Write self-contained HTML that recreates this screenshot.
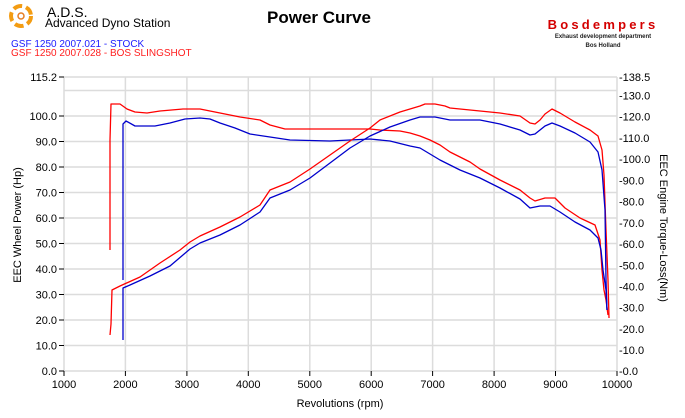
<!DOCTYPE html>
<html><head><meta charset="utf-8"><style>
body{margin:0;background:#fff;}
svg{display:block;font-family:"Liberation Sans",sans-serif;}
</style></head><body>
<svg width="685" height="418" viewBox="0 0 685 418" xmlns="http://www.w3.org/2000/svg">
<rect width="685" height="418" fill="#fff"/>
<circle cx="21" cy="16" r="10" fill="none" stroke="#f39c12" stroke-width="4" stroke-dasharray="9 4"/>
<circle cx="21" cy="16" r="3" fill="none" stroke="#e67e22" stroke-width="1.5"/>
<text x="47" y="17" font-size="14" fill="#000">A.D.S.</text>
<text x="45" y="27" font-size="12" fill="#000">Advanced Dyno Station</text>
<text x="11" y="47" font-size="10" fill="#1a1aff">GSF 1250 2007.021 - STOCK</text>
<text x="11" y="56" font-size="10" fill="#ff2020">GSF 1250 2007.028 - BOS SLINGSHOT</text>
<text x="319" y="23" font-size="17" font-weight="bold" text-anchor="middle" fill="#000">Power Curve</text>
<text x="603" y="29" font-size="13" font-weight="bold" text-anchor="middle" fill="#d40000" letter-spacing="3.2">Bosdempers</text>
<text x="603" y="38" font-size="6" font-weight="bold" text-anchor="middle" fill="#222">Exhaust development department</text>
<text x="603" y="47" font-size="6" font-weight="bold" text-anchor="middle" fill="#222">Bos Holland</text>
<g stroke="#dcdcdc" stroke-width="1.5" fill="none">
<line x1="64" y1="77" x2="617" y2="77"/>
<line x1="64" y1="90.5" x2="617" y2="90.5"/><line x1="64" y1="116" x2="617" y2="116"/><line x1="64" y1="141.5" x2="617" y2="141.5"/><line x1="64" y1="167" x2="617" y2="167"/><line x1="64" y1="192.5" x2="617" y2="192.5"/><line x1="64" y1="218" x2="617" y2="218"/><line x1="64" y1="243.5" x2="617" y2="243.5"/><line x1="64" y1="269" x2="617" y2="269"/><line x1="64" y1="294.5" x2="617" y2="294.5"/><line x1="64" y1="320" x2="617" y2="320"/><line x1="64" y1="345.5" x2="617" y2="345.5"/>
<line x1="64" y1="371" x2="617" y2="371"/>
<line x1="64" y1="77" x2="64" y2="371"/><line x1="617" y1="77" x2="617" y2="371"/>
<line x1="125.4" y1="77" x2="125.4" y2="371"/><line x1="186.9" y1="77" x2="186.9" y2="371"/><line x1="248.3" y1="77" x2="248.3" y2="371"/><line x1="309.8" y1="77" x2="309.8" y2="371"/><line x1="371.2" y1="77" x2="371.2" y2="371"/><line x1="432.6" y1="77" x2="432.6" y2="371"/><line x1="494.1" y1="77" x2="494.1" y2="371"/><line x1="555.5" y1="77" x2="555.5" y2="371"/>
</g>
<g stroke="#000" stroke-width="1">
<line x1="59" y1="77" x2="64" y2="77"/><line x1="59" y1="116" x2="64" y2="116"/><line x1="59" y1="141.5" x2="64" y2="141.5"/><line x1="59" y1="167" x2="64" y2="167"/><line x1="59" y1="192.5" x2="64" y2="192.5"/><line x1="59" y1="218" x2="64" y2="218"/><line x1="59" y1="243.5" x2="64" y2="243.5"/><line x1="59" y1="269" x2="64" y2="269"/><line x1="59" y1="294.5" x2="64" y2="294.5"/><line x1="59" y1="320" x2="64" y2="320"/><line x1="59" y1="345.5" x2="64" y2="345.5"/><line x1="59" y1="371" x2="64" y2="371"/>
<line x1="64" y1="371" x2="64" y2="376"/><line x1="125.4" y1="371" x2="125.4" y2="376"/><line x1="186.9" y1="371" x2="186.9" y2="376"/><line x1="248.3" y1="371" x2="248.3" y2="376"/><line x1="309.8" y1="371" x2="309.8" y2="376"/><line x1="371.2" y1="371" x2="371.2" y2="376"/><line x1="432.6" y1="371" x2="432.6" y2="376"/><line x1="494.1" y1="371" x2="494.1" y2="376"/><line x1="555.5" y1="371" x2="555.5" y2="376"/><line x1="617" y1="371" x2="617" y2="376"/>
</g>
<g font-size="11" fill="#000" text-anchor="end">
<text x="57" y="81">115.2</text><text x="57" y="120">100.0</text><text x="57" y="145.5">90.0</text><text x="57" y="171">80.0</text><text x="57" y="196.5">70.0</text><text x="57" y="222">60.0</text><text x="57" y="247.5">50.0</text><text x="57" y="273">40.0</text><text x="57" y="298.5">30.0</text><text x="57" y="324">20.0</text><text x="57" y="349.5">10.0</text><text x="57" y="375">0.0</text>
</g>
<g font-size="11" fill="#000">
<text x="619" y="81">-138.5</text><text x="619" y="99.5">-130.0</text><text x="619" y="120.7">-120.0</text><text x="619" y="141.9">-110.0</text><text x="619" y="163.2">-100.0</text><text x="619" y="184.4">-90.0</text><text x="619" y="205.6">-80.0</text><text x="619" y="226.8">-70.0</text><text x="619" y="248.1">-60.0</text><text x="619" y="269.3">-50.0</text><text x="619" y="290.5">-40.0</text><text x="619" y="311.7">-30.0</text><text x="619" y="333">-20.0</text><text x="619" y="354.2">-10.0</text><text x="619" y="375">-0.0</text>
</g>
<g font-size="11" fill="#000" text-anchor="middle">
<text x="64" y="388">1000</text><text x="125.4" y="388">2000</text><text x="186.9" y="388">3000</text><text x="248.3" y="388">4000</text><text x="309.8" y="388">5000</text><text x="371.2" y="388">6000</text><text x="432.6" y="388">7000</text><text x="494.1" y="388">8000</text><text x="555.5" y="388">9000</text><text x="617" y="388">10000</text>
<text x="340" y="407">Revolutions (rpm)</text>
<text transform="translate(21,225) rotate(-90)">EEC Wheel Power (Hp)</text>
<text transform="translate(660,228) rotate(90)">EEC Engine Torque-Loss(Nm)</text>
</g>
<g fill="none" stroke-width="1.3" stroke-linejoin="round">
<polyline stroke="#ff0000" points="110,250 110,140 111,104 113,104 120,104 127,109 135,112 147,113 160,111 183,109 200,109 220,113 240,117 260,120 270,125 285,129 320,129 370,129 380,130 400,131 410,133 420,136 430,140 440,145 450,152 460,157 470,162 480,169 500,180 520,190 530,198 535,201 545,198 555,198 565,208 580,218 595,225 600,240 602,270 604,290 606,300 608,315"/>
<polyline stroke="#0000cc" points="123,280 123,124 126,121 135,126 155,126 170,123 185,119 200,118 210,119 220,123 235,128 250,134 270,137 290,140 330,141 370,139 390,141 410,146 420,148 430,154 440,160 460,170 480,178 500,188 520,199 530,208 540,206 550,206 560,212 575,222 590,230 598,238 601,250 603,270 606,290 607,310"/>
<polyline stroke="#ff0000" points="110,335 111,324 112,290 120,286 140,277 160,263 180,250 190,242 200,236 220,227 240,217 260,205 270,190 290,182 310,169 330,155 350,141 370,128 380,120 400,112 420,106 425,104 435,104 445,106 450,108 470,110 490,112 500,113 520,116 530,123 535,124 540,120 545,114 552,109 560,113 575,122 590,130 598,136 602,150 604,175 606,230 608,280 609,318"/>
<polyline stroke="#0000cc" points="123,340 123,288 130,285 150,276 170,266 190,249 200,243 220,235 240,225 260,212 270,198 290,190 310,178 330,163 350,148 370,136 390,127 410,120 420,117 435,117 450,120 480,120 500,124 520,130 530,135 535,134 545,126 552,123 560,126 575,133 590,142 598,152 602,170 605,210 606,280 607,310"/>
</g>
</svg>
</body></html>
